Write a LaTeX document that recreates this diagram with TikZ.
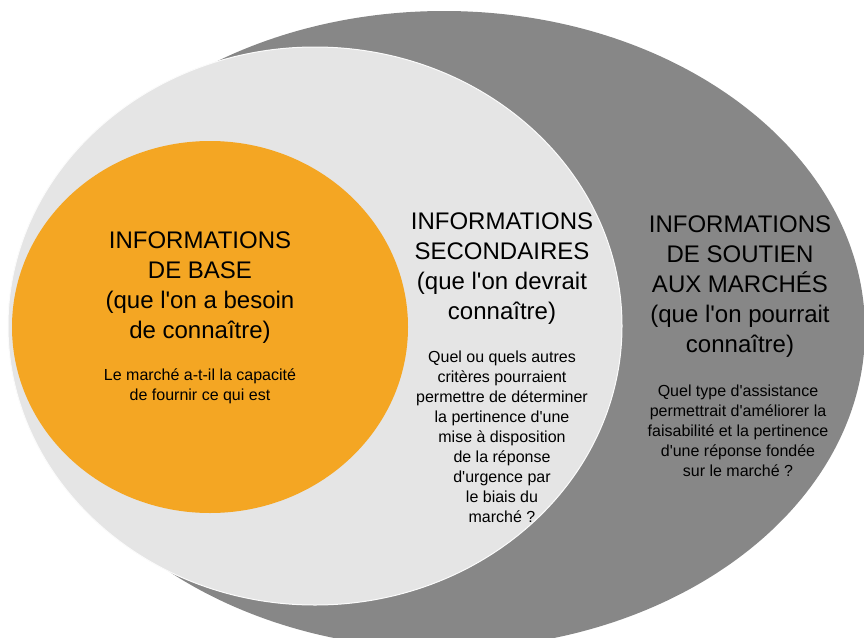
\documentclass[tikz,border=0pt]{standalone}
\usepackage{fontspec}
\newfontfamily\arial{Liberation Sans}
\usepackage{tikz}
\usetikzlibrary{shapes.geometric}
\definecolor{orangebase}{HTML}{F4A623}
\definecolor{grisclair}{HTML}{E5E5E5}
\definecolor{grisfonce}{HTML}{878787}
\tikzstyle{marche} = [ellipse, fill=grisfonce, inner sep=0, minimum width=842pt, minimum height=638pt]
\tikzstyle{second} = [ellipse, fill=grisclair, draw=white!85!grisclair, line width=1pt, inner sep=0, minimum width=614pt, minimum height=558pt]
\tikzstyle{basique} = [ellipse, fill=orangebase, inner sep=0, minimum width=396pt, minimum height=372pt]
\tikzstyle{titre} = [font=\arial\fontsize{24}{30}\selectfont, align=center, inner sep=0, anchor=north]
\tikzstyle{texte} = [font=\arial\fontsize{16}{20}\selectfont, align=center, inner sep=0, anchor=north]

\begin{document}
\begin{tikzpicture}[x=1pt, y=-1pt]
    \useasboundingbox (0,0) rectangle (864,637);
    \clip (0,0) rectangle (864,637);

    \node (soutien) [marche] at (444,330) {};
    \path (soutien.center)+(-129,-4) node (secondaire) [second] {};
    \path (secondaire.center)+(-105,1) node (base) [basique] {};

    \path (base.center)+(-10,-95) node (basetitre) [titre] {INFORMATIONS\\DE BASE\\(que l'on a besoin\\de connaître)};
    \path (base.center)+(-10,42) node (basetexte) [texte] {Le marché a-t-il la capacité\\de fournir ce qui est};

    \path (secondaire.center)+(187,-113) node (secondtitre) [titre] {INFORMATIONS\\SECONDAIRES\\(que l'on devrait\\connaître)};
    \path (secondaire.center)+(187,25) node (secondtexte) [texte] {Quel ou quels autres\\critères pourraient\\permettre de déterminer\\la pertinence d'une\\mise à disposition\\de la réponse\\d'urgence par\\le biais du\\marché ?};

    \path (soutien.center)+(296,-114) node (soutientitre) [titre] {INFORMATIONS\\DE SOUTIEN\\AUX MARCHÉS\\(que l'on pourrait\\connaître)};
    \path (soutien.center)+(294,55) node (soutientexte) [texte] {Quel type d'assistance\\permettrait d'améliorer la\\faisabilité et la pertinence\\d'une réponse fondée\\sur le marché ?};
\end{tikzpicture}
\end{document}
